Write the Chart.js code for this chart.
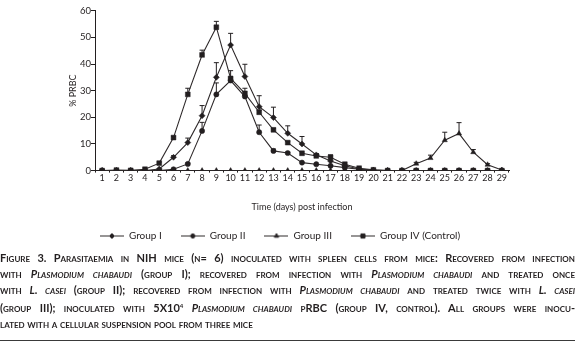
<!DOCTYPE html>
<html>
<head>
<meta charset="utf-8">
<script src="https://cdn.jsdelivr.net/npm/chart.js@4.4.1/dist/chart.umd.min.js"></script>
<style>
    body { margin: 0; width: 580px; height: 352px; position: relative; background: #fff; color: #231f20; }
    #chartBox { position: absolute; left: 0; top: 0; width: 580px; height: 251px; }
    #caption { position: absolute; left: 0; top: 250px; width: 575px; font-family: Lato, sans-serif; font-weight: 700; font-variant: small-caps; font-size: 11px; line-height: 15.9px; }
    #caption div { white-space: nowrap; text-align: justify; text-align-last: justify; }
    #caption div.last { text-align-last: left; }
    #caption sup { font-size: 6px; vertical-align: 4px; }
    #rule { position: absolute; left: 0; top: 340px; width: 575px; height: 1px; background: #3a3a3a; }
</style>
</head>
<body>
<div id="chartBox"><canvas id="parasiteChart"></canvas></div>
<div id="caption">
    <div>Figure 3. Parasitaemia in NIH mice (n= 6) inoculated with spleen cells from mice: Recovered from infection</div>
    <div>with <i>Plasmodium chabaudi</i> (group I); recovered from infection with <i>Plasmodium chabaudi</i> and treated once</div>
    <div>with <i>L. casei</i> (group II); recovered from infection with <i>Plasmodium chabaudi</i> and treated twice with <i>L. casei</i></div>
    <div>(group III); inoculated with 5X10<sup>4</sup> <i>Plasmodium chabaudi</i> pRBC (group IV, control). All groups were inocu-</div>
    <div class="last">lated with a cellular suspension pool from three mice</div>
</div>
<div id="rule"></div>

<script>
// days post infection
const days = ['1', '2', '3', '4', '5', '6', '7', '8', '9', '10', '11', '12', '13', '14', '15',
    '16', '17', '18', '19', '20', '21', '22', '23', '24', '25', '26', '27', '28', '29'];
const yTicks = [0, 10, 20, 30, 40, 50, 60];

// % PRBC per group
const group1 = [0, 0, 0, 0, 0.6, 5.0, 10.5, 20.6, 35.0, 47.1, 35.3, 24.0, 19.9, 14.0, 10.0,
    5.9, 3.6, 1.8, 0.6, 0.2, 0, 0, 0, 0, 0, 0, 0, 0, 0];
const group2 = [0, 0, 0, 0, 0, 0.5, 2.5, 14.9, 28.6, 33.8, 27.8, 14.4, 7.4, 6.6, 3.0,
    2.4, 1.8, 1.1, 0.5, 0.1, 0, 0, 0, 0, 0, 0, 0, 0, 0];
const group3 = [0, 0, 0, 0, 0, 0, 0, 0, 0, 0, 0, 0, 0, 0, 0,
    0, 0, 0, 0, 0, 0, 0, 2.6, 4.7, 11.4, 13.9, 6.9, 2.2, 0.2];
const group4 = [0, 0.2, 0.1, 0.5, 2.8, 12.4, 28.6, 43.4, 53.8, 34.6, 29.0, 21.9, 15.3, 10.5, 6.5,
    5.5, 5.0, 2.4, 0.9, 0.3, 0, 0, 0, 0, 0, 0, 0, 0, 0];

// upper error bars
const group1Err = [0, 0, 0, 0, 0, 0.6, 1.7, 3.8, 5.5, 4.4, 4.6, 4.1, 3.9, 2.8, 2.8,
    0.5, 0, 0, 0, 0, 0, 0, 0, 0, 0, 0, 0, 0, 0];
const group2Err = [0, 0, 0, 0, 0, 0, 0.3, 3.2, 4.3, 1.0, 0.5, 2.7, 0.7, 0.3, 0,
    0, 0, 0, 0, 0, 0, 0, 0, 0, 0, 0, 0, 0, 0];
const group3Err = [0, 0, 0, 0, 0, 0, 0, 0, 0, 0, 0, 0, 0, 0, 0,
    0, 0, 0, 0, 0, 0, 0, 0.5, 1.1, 3.0, 4.1, 1.0, 0.4, 0];
const group4Err = [0, 0, 0, 0, 0.4, 0.5, 2.3, 1.8, 2.2, 2.9, 1.9, 0.8, 0.6, 0.5, 0,
    0.4, 0.9, 0, 0, 0, 0, 0, 0, 0, 0, 0, 0, 0, 0];

const groupNames = ['Group I', 'Group II', 'Group III', 'Group IV (Control)'];
const INK = '#231f20';
const FONT = 'Lato, sans-serif';

document.addEventListener('DOMContentLoaded', function() {
    initChart();
});

// build one series
function makeSeries(label, data, errors, style, radius) {
    return {
        label: label,
        data: data,
        errors: errors,
        borderColor: '#2f2a2b',
        borderWidth: 1.1,
        backgroundColor: INK,
        pointStyle: style,
        pointRadius: radius,
        pointBorderWidth: 0.5,
        pointBorderColor: INK,
        pointBackgroundColor: INK,
        tension: 0
    };
}

// small legend sample: line with marker in the middle
function legendSample(ds) {
    const c = document.createElement('canvas');
    c.width = 24;
    c.height = 9;
    const ctx = c.getContext('2d');
    ctx.strokeStyle = '#2f2a2b';
    ctx.lineWidth = 1;
    ctx.beginPath();
    ctx.moveTo(0, 4.5);
    ctx.lineTo(24, 4.5);
    ctx.stroke();
    ctx.fillStyle = INK;
    ctx.strokeStyle = INK;
    Chart.helpers.drawPoint(ctx, { pointStyle: ds.pointStyle, radius: ds.pointRadius - 0.5, borderWidth: 0.5, rotation: 0 }, 12, 4.5);
    return c;
}

// upward error bars with caps
const errorBars = {
    id: 'errorBars',
    afterDatasetsDraw(chart) {
        const ctx = chart.ctx;
        const yScale = chart.scales.y;
        ctx.save();
        ctx.strokeStyle = INK;
        ctx.lineWidth = 1;
        chart.data.datasets.forEach((ds, i) => {
            chart.getDatasetMeta(i).data.forEach((pt, j) => {
                const err = ds.errors[j];
                if (!err) return;
                const top = yScale.getPixelForValue(ds.data[j] + err);
                ctx.beginPath();
                ctx.moveTo(pt.x, pt.y);
                ctx.lineTo(pt.x, top);
                ctx.moveTo(pt.x - 2.5, top);
                ctx.lineTo(pt.x + 2.5, top);
                ctx.stroke();
            });
        });
        ctx.restore();
    }
};

// chart
function initChart() {
    const ctx = document.getElementById('parasiteChart');
    new Chart(ctx, {
        type: 'line',
        data: {
            labels: days,
            datasets: [
                makeSeries(groupNames[0], group1, group1Err, 'rectRot', 3),
                makeSeries(groupNames[1], group2, group2Err, 'circle', 2.6),
                makeSeries(groupNames[2], group3, group3Err, 'triangle', 3),
                makeSeries(groupNames[3], group4, group4Err, 'rect', 3.4)
            ]
        },
        options: {
            responsive: true,
            maintainAspectRatio: false,
            animation: false,
            layout: { padding: { top: 10.7, left: 0, right: 20, bottom: 0 } },
            plugins: {
                tooltip: { enabled: false },
                legend: {
                    position: 'bottom',
                    labels: {
                        usePointStyle: true,
                        pointStyleWidth: 24,
                        padding: 19,
                        color: INK,
                        font: { family: FONT, size: 10 },
                        generateLabels: chart => chart.data.datasets.map((ds, i) => ({
                            text: ds.label,
                            pointStyle: legendSample(ds),
                            fillStyle: INK,
                            strokeStyle: INK,
                            lineWidth: 0,
                            fontColor: INK,
                            datasetIndex: i
                        }))
                    }
                }
            },
            scales: {
                x: {
                    type: 'category',
                    offset: true,
                    border: { color: INK, width: 1 },
                    grid: { display: true, drawOnChartArea: false, offset: true, tickLength: 2, color: INK },
                    ticks: { autoSkip: false, maxRotation: 0, padding: 0, color: INK, font: { family: FONT, size: 9 } },
                    title: { display: true, text: 'Time (days) post infection', color: INK, font: { family: FONT, size: 9 }, padding: { top: 0, bottom: 0 } },
                    afterFit: s => { s.height = 41.4; }
                },
                y: {
                    min: 0,
                    max: 60,
                    afterBuildTicks: s => { s.ticks = yTicks.map(v => ({ value: v })); },
                    border: { color: INK, width: 1 },
                    grid: { display: true, drawOnChartArea: false, tickLength: 4, color: INK },
                    ticks: { padding: 0, color: INK, font: { family: FONT, size: 9.5 } },
                    title: { display: true, text: '% PRBC', color: INK, font: { family: FONT, size: 9 }, padding: { top: 67.9, bottom: 0 } },
                    afterFit: s => { s.width = 95; }
                },
                yRight: {
                    type: 'linear',
                    position: 'right',
                    display: true,
                    border: { display: false },
                    grid: { display: false, drawTicks: false },
                    ticks: { display: false },
                    afterFit: s => { s.width = 51; }
                }
            }
        },
        plugins: [errorBars]
    });
}
</script>
</body>
</html>
